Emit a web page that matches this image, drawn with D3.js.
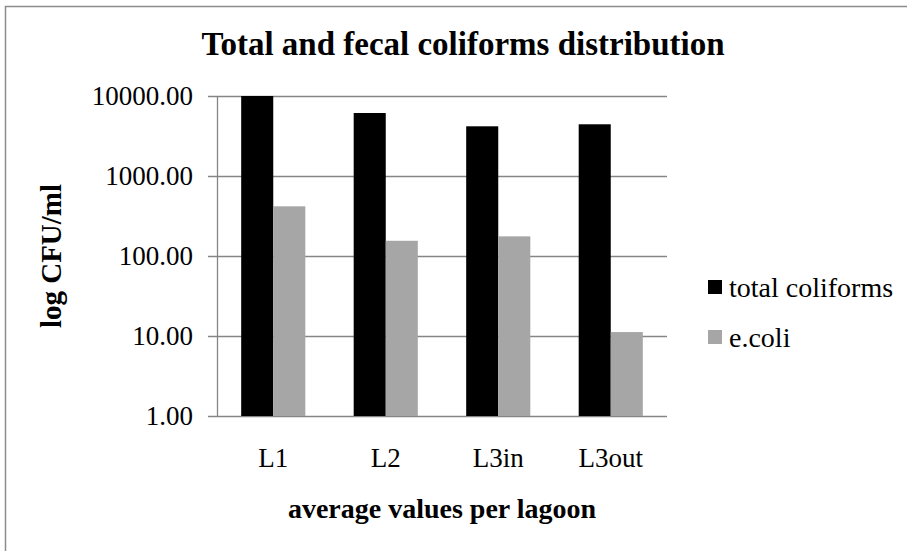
<!DOCTYPE html>
<html>
<head>
<meta charset="utf-8">
<script src="https://cdn.jsdelivr.net/npm/d3@7"></script>
<style>
  html, body { margin: 0; padding: 0; background: #fff; }
  svg { display: block; }
  text { font-family: "Liberation Serif", "Times New Roman", Times, serif; }
</style>
</head>
<body>
<div id="grafica"></div>
<script>
// ==============================
// DATOS
// ==============================
const categorias = ["L1", "L2", "L3in", "L3out"];
const series = ["total coliforms", "e.coli"];
const totalColiformes = [10000, 6130, 4180, 4430];
const eColi = [418, 155, 176, 11.2];
const ticksY = [1, 10, 100, 1000, 10000];

const titulo = "Total and fecal coliforms distribution";
const tituloX = "average values per lagoon";
const tituloY = "log CFU/ml";

// ==============================
// CONFIGURACIÃ“N
// ==============================
const ANCHO = 907;
const ALTO = 551;
const FUENTE = "Liberation Serif, Times New Roman, serif";
const COLORES = ["#000000", "#a6a6a6"];
const GRIS_EJE = "#868686";
const margen = { top: 96, right: 240, bottom: 135, left: 217 };

const svg = d3.select("#grafica")
  .append("svg")
  .attr("width", ANCHO)
  .attr("height", ALTO)
  .attr("viewBox", `0 0 ${ANCHO} ${ALTO}`)
  .attr("font-family", FUENTE);

// marco exterior del grÃ¡fico
svg.append("rect")
  .attr("x", 5.5)
  .attr("y", 6.5)
  .attr("width", ANCHO + 10)
  .attr("height", ALTO + 10)
  .attr("fill", "#fff")
  .attr("stroke", "#8c8c8c")
  .attr("stroke-width", 1.5);

const x0 = d3.scaleBand()
  .domain(categorias)
  .range([margen.left, ANCHO - margen.right])
  .paddingInner(0.43)
  .paddingOuter(0.215);

const x1 = d3.scaleBand()
  .domain(series)
  .range([0, x0.bandwidth()]);

const y = d3.scaleLog()
  .domain([1, 10000])
  .range([ALTO - margen.bottom, margen.top]);

const filas = categorias.map((c, i) => ({
  categoria: c,
  valores: [totalColiformes[i], eColi[i]]
}));

// lÃ­neas de cuadrÃ­cula
svg.append("g")
  .selectAll("line")
  .data(ticksY)
  .enter().append("line")
  .attr("x1", margen.left - 9)
  .attr("x2", ANCHO - margen.right)
  .attr("y1", d => Math.round(y(d)) + 0.5)
  .attr("y2", d => Math.round(y(d)) + 0.5)
  .attr("stroke", GRIS_EJE)
  .attr("stroke-width", 1.3);

// etiquetas eje Y
svg.append("g")
  .selectAll("text")
  .data(ticksY)
  .enter().append("text")
  .attr("x", margen.left - 24)
  .attr("y", d => y(d))
  .attr("dy", "0.34em")
  .attr("text-anchor", "end")
  .attr("font-size", "27px")
  .attr("fill", "#000")
  .text(d3.format(".2f"));

// barras
const grupos = svg.append("g")
  .selectAll("g")
  .data(filas)
  .enter().append("g")
  .attr("transform", d => `translate(${x0(d.categoria)},0)`);

grupos.selectAll("rect")
  .data(d => d.valores.map((v, i) => ({ serie: series[i], valor: v, i })))
  .enter().append("rect")
  .attr("x", d => x1(d.serie))
  .attr("width", x1.bandwidth())
  .attr("y", d => y(d.valor))
  .attr("height", d => y(1) - y(d.valor))
  .attr("fill", d => COLORES[d.i]);

// eje Y (lÃ­nea vertical)
svg.append("line")
  .attr("x1", margen.left + 0.5)
  .attr("x2", margen.left + 0.5)
  .attr("y1", y(10000))
  .attr("y2", y(1))
  .attr("stroke", GRIS_EJE)
  .attr("stroke-width", 1.3);

// etiquetas eje X
svg.append("g")
  .selectAll("text")
  .data(categorias)
  .enter().append("text")
  .attr("x", d => x0(d) + x0.bandwidth() / 2)
  .attr("y", 467)
  .attr("text-anchor", "middle")
  .attr("font-size", "27px")
  .text(d => d);

// tÃ­tulos
svg.append("text")
  .attr("x", 463)
  .attr("y", 55)
  .attr("text-anchor", "middle")
  .attr("font-size", "33px")
  .attr("font-weight", "bold")
  .text(titulo);

svg.append("text")
  .attr("x", (margen.left + ANCHO - margen.right) / 2)
  .attr("y", 518)
  .attr("text-anchor", "middle")
  .attr("font-size", "28px")
  .attr("font-weight", "bold")
  .text(tituloX);

svg.append("text")
  .attr("transform", `translate(61,${(y(1) + y(10000)) / 2}) rotate(-90)`)
  .attr("text-anchor", "middle")
  .attr("font-size", "29px")
  .attr("font-weight", "bold")
  .text(tituloY);

// leyenda
const leyenda = svg.append("g")
  .selectAll("g")
  .data(series)
  .enter().append("g")
  .attr("transform", (d, i) => `translate(708,${280 + i * 50})`);

leyenda.append("rect")
  .attr("width", 14)
  .attr("height", 14)
  .attr("fill", (d, i) => COLORES[i]);

leyenda.append("text")
  .attr("x", 21)
  .attr("y", 17)
  .attr("font-size", "28px")
  .text(d => d);
</script>
</body>
</html>
